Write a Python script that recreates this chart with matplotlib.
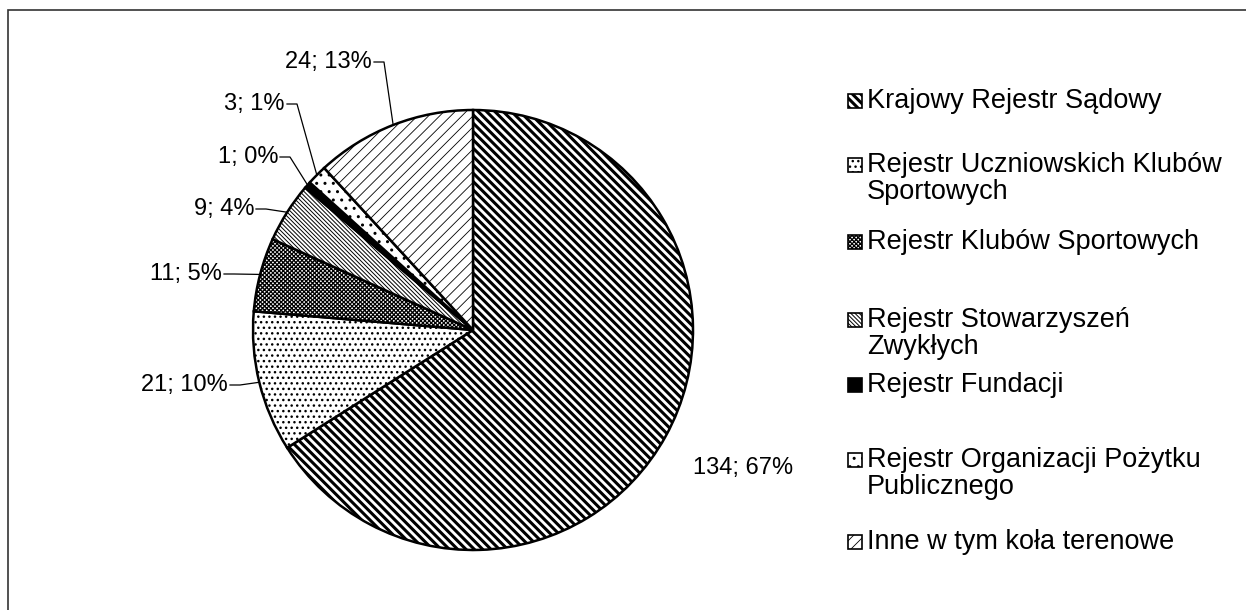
import numpy as np
import matplotlib.pyplot as plt
from matplotlib.patches import Rectangle

plt.rcParams['font.family'] = ['Liberation Sans', 'DejaVu Sans']
plt.rcParams['hatch.color'] = 'black'

# data
categories = ["Krajowy Rejestr Sądowy",
              "Rejestr Uczniowskich Klubów\nSportowych",
              "Rejestr Klubów Sportowych",
              "Rejestr Stowarzyszeń\nZwykłych",
              "Rejestr Fundacji",
              "Rejestr Organizacji Pożytku\nPublicznego",
              "Inne w tym koła terenowe"]
counts = [134, 21, 11, 9, 1, 3, 24]
pct_labels = ["67%", "10%", "5%", "4%", "0%", "1%", "13%"]

hatches = ['\\\\\\\\', '...', 'xxxxxxxx', '\\\\\\\\\\\\\\\\', '...', '..', '///']
faces = ['white', 'white', 'white', 'white', 'black', 'white', 'white']
hatch_lw = [2.2, 1.0, 0.9, 0.7, 1.0, 1.0, 0.6]

FS = 17       # value labels
FS_LEG = 19.5  # legend (text in the source is stretched wide)
W, H = 1246, 610
fig = plt.figure(figsize=(W / 100, H / 100), dpi=100)
ax = fig.add_axes([0, 0, 1, 1])
ax.axis('off')

# outer frame
fig.patches.append(Rectangle((8 / W, -0.1), 1.2, (H - 10) / H + 0.1,
                             transform=fig.transFigure, fill=False,
                             edgecolor='#333333', linewidth=1.2))

cx, cy, r = 473, 280, 220
wedges, _ = ax.pie(counts, startangle=90, counterclock=False, radius=r,
                   center=(cx, cy), frame=False,
                   wedgeprops=dict(edgecolor='black', linewidth=1.8))
for w, h, fc, lw in zip(wedges, hatches, faces, hatch_lw):
    w.set_facecolor(fc)
    w.set_hatch(h)
    if hasattr(w, 'set_hatch_linewidth'):
        w.set_hatch_linewidth(lw)
ax.set_xlim(0, W)
ax.set_ylim(0, H)
ax.set_aspect('equal')

# value labels: right edge x, centre y
label_pos = [(793, 142), (228, 225), (222, 336), (254, 401), (278, 453),
             (285, 506), (372, 548)]
for i, (w, n, p, (tx, ty)) in enumerate(zip(wedges, counts, pct_labels, label_pos)):
    ax.text(tx, ty, f"{n}; {p}", ha='right', va='center', fontsize=FS)
    if i == 0:
        continue
    ang = np.deg2rad((w.theta1 + w.theta2) / 2)
    ex, ey = cx + r * np.cos(ang), cy + r * np.sin(ang)
    ax.plot([tx + 2, tx + 12, ex], [ty, ty, ey], color='black', lw=0.9)

# legend
leg_y = [509, 445, 368, 290, 225, 150, 68]
for cat, h, fc, lw, ly in zip(categories, hatches, faces, hatch_lw, leg_y):
    sq = Rectangle((848, ly - 7), 14, 14, facecolor=fc, hatch=h,
                   edgecolor='black', linewidth=1.2)
    if hasattr(sq, 'set_hatch_linewidth'):
        sq.set_hatch_linewidth(lw)
    ax.add_patch(sq)
    for k, line in enumerate(cat.split('\n')):
        ax.text(867, ly - 27 * k, line, ha='left', va='center', fontsize=FS_LEG)

fig.savefig('out.png', dpi=100)
